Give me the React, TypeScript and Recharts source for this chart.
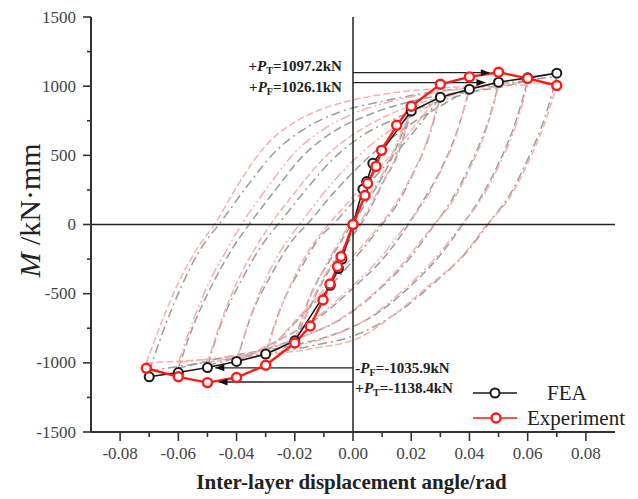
import React from 'react';
import { LineChart, Line, XAxis, YAxis, ReferenceLine, Legend } from 'recharts';

type P = [number, number];

const xTicks = [-0.08, -0.07, -0.06, -0.05, -0.04, -0.03, -0.02, -0.01, 0, 0.01, 0.02, 0.03, 0.04, 0.05, 0.06, 0.07, 0.08];
const yTicks = [-1500, -1250, -1000, -750, -500, -250, 0, 250, 500, 750, 1000, 1250, 1500];

// Skeleton curves
const feaSkeleton: P[] = [
  [-0.07, -1101], [-0.06, -1070], [-0.05, -1034], [-0.04, -990], [-0.03, -937], [-0.02, -841],
  [-0.0078, -440], [-0.005, -318], [-0.0038, -250], [0, 0], [0.0034, 255], [0.0047, 310], [0.0068, 442],
  [0.02, 820], [0.03, 920], [0.04, 978], [0.05, 1029], [0.06, 1060], [0.07, 1094],
];
const expSkeleton: P[] = [
  [-0.071, -1039], [-0.06, -1101], [-0.05, -1143], [-0.04, -1106], [-0.03, -1017], [-0.02, -857],
  [-0.0147, -734], [-0.0103, -546], [-0.0079, -430], [-0.0053, -304], [-0.0041, -232], [0, 0],
  [0.0041, 210], [0.005, 297], [0.0079, 420], [0.0098, 536], [0.015, 717], [0.02, 855],
  [0.03, 1014], [0.04, 1067], [0.05, 1101], [0.06, 1056], [0.07, 1005],
];

// Hysteresis loops (background), experiment (pink) and FEA (grey)
const expUp07: P[] = [[-0.071, -1000], [-0.066, -720], [-0.06, -420], [-0.054, -190], [-0.047, 20], [-0.04, 270], [-0.03, 570], [-0.02, 740], [-0.01, 840], [0, 900], [0.015, 955], [0.03, 985], [0.045, 1005], [0.06, 1025], [0.07, 1005]];
const expDown07: P[] = [[-0.071, -1000], [-0.05, -975], [-0.03, -940], [-0.012, -890], [0.002, -820], [0.013, -670], [0.025, -460], [0.037, -240], [0.046, 0], [0.054, 200], [0.06, 440], [0.066, 740], [0.07, 1005]];
const feaUp07: P[] = [[-0.07, -1060], [-0.065, -760], [-0.059, -450], [-0.053, -200], [-0.045, 30], [-0.037, 260], [-0.027, 520], [-0.016, 700], [-0.005, 810], [0.01, 890], [0.025, 950], [0.04, 990], [0.055, 1030], [0.07, 1070]];
const feaDown07: P[] = [[-0.07, -1060], [-0.055, -1010], [-0.035, -950], [-0.015, -880], [0.002, -790], [0.015, -640], [0.028, -420], [0.039, -200], [0.047, 20], [0.054, 220], [0.06, 470], [0.066, 780], [0.07, 1070]];

const expUp06: P[] = [[-0.06, -1000], [-0.055, -700], [-0.049, -400], [-0.043, -170], [-0.038, 10], [-0.03, 250], [-0.02, 520], [-0.01, 690], [0, 800], [0.015, 900], [0.03, 960], [0.045, 995], [0.06, 1010]];
const expDown06: P[] = [[-0.06, -1000], [-0.045, -960], [-0.025, -900], [-0.008, -810], [0.005, -680], [0.017, -480], [0.028, -250], [0.037, -10], [0.044, 180], [0.05, 420], [0.056, 720], [0.06, 1010]];
const feaUp06: P[] = [[-0.06, -1040], [-0.055, -740], [-0.048, -420], [-0.041, -160], [-0.035, 20], [-0.027, 240], [-0.017, 500], [-0.006, 680], [0.005, 790], [0.02, 890], [0.035, 950], [0.05, 990], [0.06, 1040]];
const feaDown06: P[] = [[-0.06, -1040], [-0.042, -950], [-0.022, -880], [-0.006, -790], [0.007, -660], [0.019, -460], [0.03, -220], [0.038, 10], [0.044, 200], [0.05, 440], [0.056, 750], [0.06, 1040]];

const expUp05: P[] = [[-0.05, -1000], [-0.045, -680], [-0.039, -380], [-0.033, -150], [-0.028, 10], [-0.02, 230], [-0.01, 480], [0, 650], [0.01, 770], [0.025, 890], [0.04, 960], [0.05, 1000]];
const expDown05: P[] = [[-0.05, -1000], [-0.035, -930], [-0.018, -820], [-0.005, -690], [0.007, -500], [0.018, -260], [0.027, -20], [0.034, 160], [0.04, 400], [0.046, 700], [0.05, 1000]];
const feaUp05: P[] = [[-0.05, -1020], [-0.045, -700], [-0.038, -390], [-0.031, -140], [-0.025, 20], [-0.017, 230], [-0.007, 470], [0.003, 640], [0.014, 760], [0.028, 880], [0.04, 950], [0.05, 1010]];
const feaDown05: P[] = [[-0.05, -1020], [-0.033, -920], [-0.016, -800], [-0.003, -670], [0.009, -470], [0.02, -230], [0.028, 0], [0.034, 180], [0.04, 420], [0.046, 720], [0.05, 1010]];

const expUp04: P[] = [[-0.04, -980], [-0.035, -650], [-0.029, -350], [-0.023, -130], [-0.018, 10], [-0.01, 230], [0, 460], [0.01, 640], [0.02, 780], [0.03, 900], [0.04, 990]];
const expDown04: P[] = [[-0.04, -980], [-0.026, -840], [-0.013, -680], [-0.002, -480], [0.009, -250], [0.018, -10], [0.024, 150], [0.03, 380], [0.036, 680], [0.04, 990]];
const feaUp04: P[] = [[-0.04, -990], [-0.035, -660], [-0.028, -360], [-0.021, -120], [-0.015, 20], [-0.007, 220], [0.003, 440], [0.013, 620], [0.023, 770], [0.032, 880], [0.04, 980]];
const feaDown04: P[] = [[-0.04, -990], [-0.025, -830], [-0.011, -660], [0, -460], [0.011, -230], [0.019, 0], [0.024, 170], [0.03, 390], [0.036, 690], [0.04, 980]];

const expUp03: P[] = [[-0.03, -940], [-0.025, -620], [-0.019, -330], [-0.013, -120], [-0.008, 10], [0, 200], [0.01, 430], [0.02, 680], [0.03, 950]];
const expDown03: P[] = [[-0.03, -940], [-0.02, -700], [-0.01, -470], [0, -230], [0.009, -10], [0.014, 130], [0.02, 350], [0.026, 640], [0.03, 950]];
const feaUp03: P[] = [[-0.03, -930], [-0.025, -610], [-0.018, -320], [-0.012, -110], [-0.006, 20], [0.002, 210], [0.012, 450], [0.022, 700], [0.03, 920]];
const feaDown03: P[] = [[-0.03, -930], [-0.019, -690], [-0.008, -450], [0.002, -210], [0.01, 0], [0.015, 140], [0.02, 340], [0.026, 630], [0.03, 920]];

const expUp02: P[] = [[-0.02, -840], [-0.015, -540], [-0.009, -280], [-0.003, -60], [0.003, 130], [0.01, 360], [0.02, 840]];
const expDown02: P[] = [[-0.02, -840], [-0.01, -380], [-0.002, -120], [0.004, 70], [0.01, 300], [0.016, 560], [0.02, 840]];
const feaUp02: P[] = [[-0.02, -840], [-0.015, -530], [-0.008, -260], [-0.002, -50], [0.004, 140], [0.011, 380], [0.02, 820]];
const feaDown02: P[] = [[-0.02, -840], [-0.009, -360], [-0.001, -110], [0.005, 80], [0.01, 290], [0.016, 540], [0.02, 820]];

// Annotation values (kN) and arrow tips (rad)
const annValues = [1097.2, 1026.1, -1035.9, -1138.4];
const annTips = [0.047, 0.0455, -0.0473, -0.0462];
const annSubs = ['T', 'F', 'F', 'T'];
const annSigns = ['+', '+', '-', '+'];

const toPts = (a: P[]) => a.map(([x, y]) => ({ x, y }));

const loops = [
  { up: feaUp07, down: feaDown07, kind: 'fea' }, { up: expUp07, down: expDown07, kind: 'exp' },
  { up: feaUp06, down: feaDown06, kind: 'fea' }, { up: expUp06, down: expDown06, kind: 'exp' },
  { up: feaUp05, down: feaDown05, kind: 'fea' }, { up: expUp05, down: expDown05, kind: 'exp' },
  { up: feaUp04, down: feaDown04, kind: 'fea' }, { up: expUp04, down: expDown04, kind: 'exp' },
  { up: feaUp03, down: feaDown03, kind: 'fea' }, { up: expUp03, down: expDown03, kind: 'exp' },
  { up: feaUp02, down: feaDown02, kind: 'fea' }, { up: expUp02, down: expDown02, kind: 'exp' },
];

const FONT = '"Liberation Serif", "Times New Roman", serif';

const YTick = (props: any) => {
  const { x, y, payload } = props;
  const v = payload.value;
  const major = v % 500 === 0;
  return (
    <g>
      <line x1={x - (major ? 8 : 4)} x2={x} y1={y} y2={y} stroke="#333" strokeWidth={1.6} />
      {major && (
        <text x={x - 15} y={y} textAnchor="end" dominantBaseline="central" fontSize={17} fill="#444" fontFamily={FONT}>
          {v}
        </text>
      )}
    </g>
  );
};

const XTick = (props: any) => {
  const { x, y, payload } = props;
  const v = payload.value;
  const major = Math.round(v * 100) % 2 === 0;
  return (
    <g>
      <line x1={x} x2={x} y1={y} y2={y + (major ? 9 : 5)} stroke="#333" strokeWidth={1.6} />
      {major && (
        <text x={x} y={y + 21} textAnchor="middle" dominantBaseline="central" fontSize={17} fill="#444" fontFamily={FONT}>
          {v.toFixed(2)}
        </text>
      )}
    </g>
  );
};

const YLabel = (props: any) => {
  const vb = props.viewBox;
  const cx = vb.x + 40;
  const cy = vb.y + vb.height / 2 - 14;
  return (
    <text x={cx} y={cy} transform={`rotate(-90, ${cx}, ${cy})`} textAnchor="middle" fontSize={30} fill="#222" fontFamily={FONT}>
      <tspan fontStyle="italic">M</tspan>
      <tspan> /kN·mm</tspan>
    </text>
  );
};

const XLabel = (props: any) => {
  const vb = props.viewBox;
  return (
    <text x={vb.x + vb.width / 2 - 1.5} y={vb.y + 57} textAnchor="middle" fontSize={21} fontWeight="bold" fill="#222" fontFamily={FONT}>
      Inter-layer displacement angle/rad
    </text>
  );
};

const annText = (i: number) => (
  <>
    <tspan>{annSigns[i]}</tspan>
    <tspan fontStyle="italic">P</tspan>
    <tspan fontSize={10} dy={4}>{annSubs[i]}</tspan>
    <tspan dy={-4}>={annValues[i]}kN</tspan>
  </>
);

const makeArrowDot = (dir: number) => (props: any) => {
  const { cx, cy, index } = props;
  if (index !== 1) return <g key={`a${index}`} />;
  const L = 9;
  const H = 3.5;
  return <path key={`a${index}`} d={`M${cx},${cy} L${cx - dir * L},${cy - H} L${cx - dir * L},${cy + H} Z`} fill="#111" />;
};

const makeLabelDot = (i: number, anchor: 'start' | 'end') => (props: any) => {
  const { cx, cy } = props;
  return (
    <text key={`l${i}`} x={cx} y={cy} textAnchor={anchor} dominantBaseline="central" fontSize={15} fontWeight="bold" fill="#222" fontFamily={FONT}>
      {annText(i)}
    </text>
  );
};

const labelPos: { x: number; y: number; anchor: 'start' | 'end' }[] = [
  { x: -0.0038, y: 1147, anchor: 'end' },
  { x: -0.0038, y: 995, anchor: 'end' },
  { x: 0.0008, y: -1036, anchor: 'start' },
  { x: 0.0008, y: -1181, anchor: 'start' },
];

const circleDot = (color: string, sw: number) => (props: any) => {
  const { cx, cy, index } = props;
  return <circle key={`c${index}`} cx={cx} cy={cy} r={4.5} fill="#fff" stroke={color} strokeWidth={sw} />;
};

const LegendContent = () => (
  <svg width={185} height={60} style={{ overflow: 'visible' }}>
    <line x1={18} x2={62} y1={15} y2={15} stroke="#1a1a1a" strokeWidth={1.6} />
    <circle cx={40} cy={15} r={4.5} fill="#fff" stroke="#1a1a1a" strokeWidth={2} />
    <text x={92} y={15} dominantBaseline="central" fontSize={21} fill="#222" fontFamily={FONT}>FEA</text>
    <line x1={18} x2={62} y1={40} y2={40} stroke="#ff1a1a" strokeWidth={1.6} />
    <circle cx={41} cy={40} r={4.5} fill="#fff" stroke="#ff1a1a" strokeWidth={2.4} />
    <text x={72} y={40} dominantBaseline="central" fontSize={21} fill="#222" fontFamily={FONT}>Experiment</text>
  </svg>
);

export default function App() {
  return (
    <div style={{ position: 'absolute', left: 0, top: 0, background: '#fff' }}>
      <LineChart width={638} height={499} margin={{ top: 17, right: 23, bottom: 27, left: 0 }}>
        <XAxis
          type="number"
          dataKey="x"
          domain={[-0.09, 0.09]}
          ticks={xTicks}
          interval={0}
          allowDataOverflow
          height={40}
          tickSize={0}
          tickMargin={0}
          tickLine={false}
          tick={<XTick />}
          axisLine={{ stroke: '#333', strokeWidth: 2 }}
          label={{ content: XLabel }}
        />
        <YAxis
          type="number"
          dataKey="y"
          domain={[-1500, 1500]}
          ticks={yTicks}
          interval={0}
          allowDataOverflow
          width={91}
          tickSize={0}
          tickMargin={0}
          tickLine={false}
          tick={<YTick />}
          axisLine={{ stroke: '#333', strokeWidth: 2 }}
          label={{ content: YLabel }}
        />
        {loops.map((lp, i) => {
          const isFea = lp.kind === 'fea';
          const color = isFea ? '#9c9c9c' : '#f6b0b0';
          const dash = isFea ? (i % 4 === 0 ? '9 4 2 4' : '8 4') : i % 4 === 1 ? '7 3' : '10 3 2 3 2 3';
          return [
            <Line key={`u${i}`} data={toPts(lp.up)} dataKey="y" type="monotone" stroke={color} strokeWidth={1.5} strokeDasharray={dash} dot={false} activeDot={false} isAnimationActive={false} />,
            <Line key={`d${i}`} data={toPts(lp.down)} dataKey="y" type="monotone" stroke={color} strokeWidth={1.5} strokeDasharray={dash} dot={false} activeDot={false} isAnimationActive={false} />,
          ];
        })}
        <ReferenceLine y={0} stroke="#222" strokeWidth={1.5} />
        <ReferenceLine x={0} stroke="#222" strokeWidth={1.5} />
        {annValues.map((v, i) => (
          <Line
            key={`ann${i}`}
            data={[{ x: 0, y: v }, { x: annTips[i], y: v }]}
            dataKey="y"
            type="linear"
            stroke="#222"
            strokeWidth={1.3}
            dot={makeArrowDot(annTips[i] > 0 ? 1 : -1)}
            activeDot={false}
            isAnimationActive={false}
          />
        ))}
        {labelPos.map((p, i) => (
          <Line
            key={`lab${i}`}
            data={[{ x: p.x, y: p.y }]}
            dataKey="y"
            stroke="none"
            dot={makeLabelDot(i, p.anchor)}
            activeDot={false}
            isAnimationActive={false}
          />
        ))}
        <Line data={toPts(feaSkeleton)} dataKey="y" type="linear" stroke="#1a1a1a" strokeWidth={1.6} dot={circleDot('#1a1a1a', 2)} activeDot={false} isAnimationActive={false} />
        <Line data={toPts(expSkeleton)} dataKey="y" type="linear" stroke="#ff1a1a" strokeWidth={2.4} dot={circleDot('#ff1a1a', 2.4)} activeDot={false} isAnimationActive={false} />
        <Legend
          layout="vertical"
          align="center"
          verticalAlign="middle"
          content={LegendContent}
          wrapperStyle={{ left: 455, top: 378, width: 185, height: 60 }}
        />
      </LineChart>
    </div>
  );
}
